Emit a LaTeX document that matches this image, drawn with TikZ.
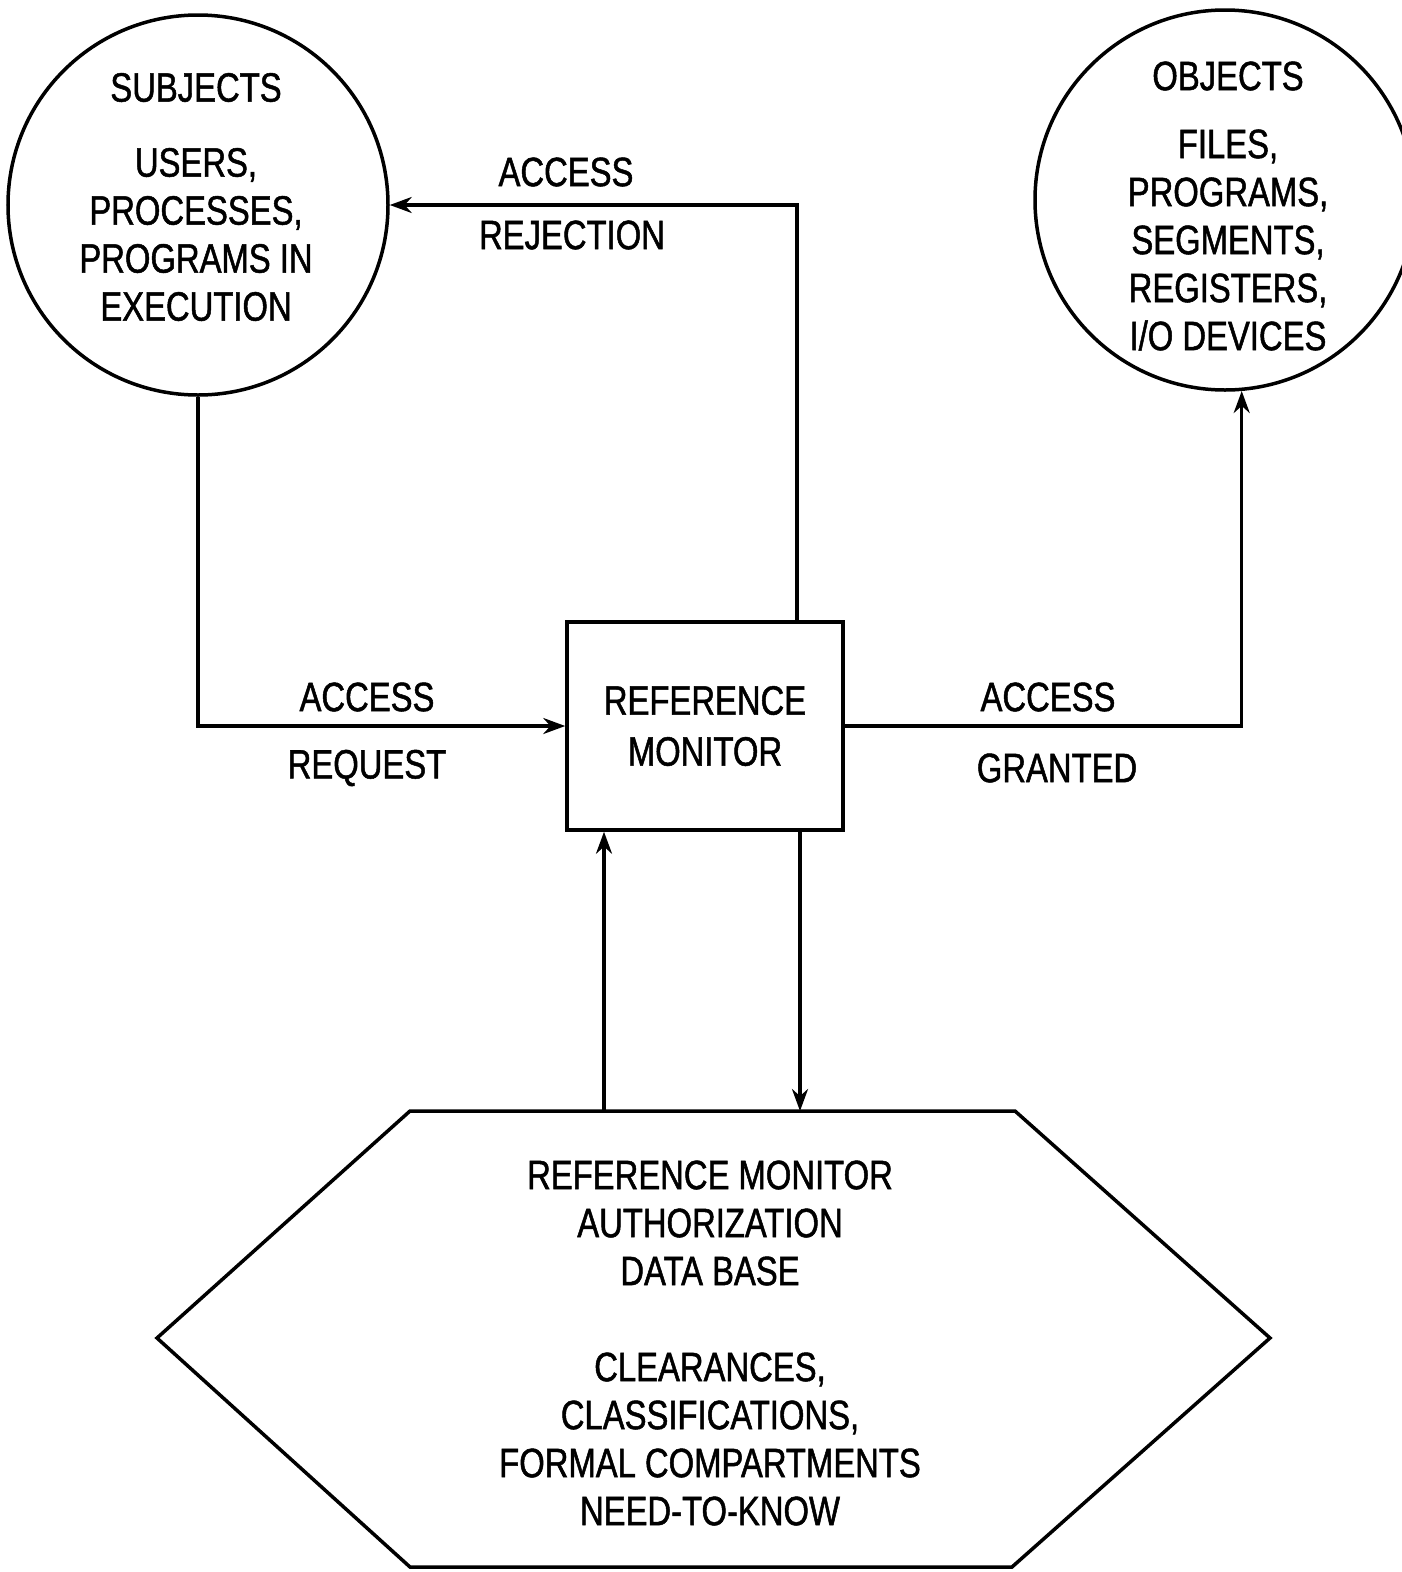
\documentclass[tikz,border=0pt]{standalone}
\usepackage{fontspec}
\setmainfont{Liberation Sans}[FakeStretch=0.8,FakeBold=1.2]
\usetikzlibrary{arrows.meta}
\begin{document}
\begin{tikzpicture}[x=1pt,y=-1pt,line width=3.5pt,
  font=\fontsize{41}{48}\selectfont,
  lbl/.style={inner sep=0pt,align=center},
  circ/.style={draw,circle,minimum size=380pt,inner sep=0pt},
  arr/.style={-{Stealth[length=22pt,width=16pt]}}]
\fill[white] (0,0) rectangle (1401,1572);
\useasboundingbox (0,0) rectangle (1401,1572);
% subjects
\node[circ] (subj) at (198,205) {};
\node[lbl] (subjtxt) at (196,197) {SUBJECTS\\[27pt]USERS,\\PROCESSES,\\PROGRAMS IN\\EXECUTION};
% objects
\node[circ] (obj) at (1225,200) {};
\node[lbl] (objtxt) at (1228,206) {OBJECTS\\[20pt]FILES,\\PROGRAMS,\\SEGMENTS,\\REGISTERS,\\I/O DEVICES};
% reference monitor
\node[draw,minimum width=276pt,minimum height=208pt,inner sep=0pt,align=center] (rm) at (705,726) {REFERENCE\\[3pt]MONITOR};
% data base hexagon
\coordinate (h1) at (410,1111);
\coordinate (h2) at (1015,1111);
\coordinate (h3) at (1270,1338);
\coordinate (h4) at (1012,1567);
\coordinate (h5) at (410,1567);
\coordinate (h6) at (157,1338);
\draw[line join=miter] (h1) -- (h2) -- (h3) -- (h4) -- (h5) -- (h6) -- cycle;
\node[lbl] (db) at (710,1343) {REFERENCE MONITOR\\AUTHORIZATION\\DATA BASE\\[48pt]CLEARANCES,\\CLASSIFICATIONS,\\FORMAL COMPARTMENTS\\NEED-TO-KNOW};
\coordinate (dbL) at (604,1111);
\coordinate (dbR) at (800,1111);
\coordinate (rjx) at (797,0);
% connectors
\draw[arr] (subj.south) |- (rm.west);
\draw[arr] (rm.north -| rjx) |- (subj.east);
\draw[arr] (rm.east) -| (obj.-85.5);
\draw[arr] (dbL) -- (dbL |- rm.south);
\draw[arr] (rm.south -| dbR) -- (dbR);
% labels
\node[lbl] (rq1) at (367,697) {ACCESS};
\node[lbl] (rq2) at (367,768) {REQUEST};
\node[lbl] (rj1) at (566,172) {ACCESS};
\node[lbl] (rj2) at (572,235) {REJECTION};
\node[lbl] (gr1) at (1048,697) {ACCESS};
\node[lbl] (gr2) at (1057,768) {GRANTED};
\end{tikzpicture}
\end{document}
